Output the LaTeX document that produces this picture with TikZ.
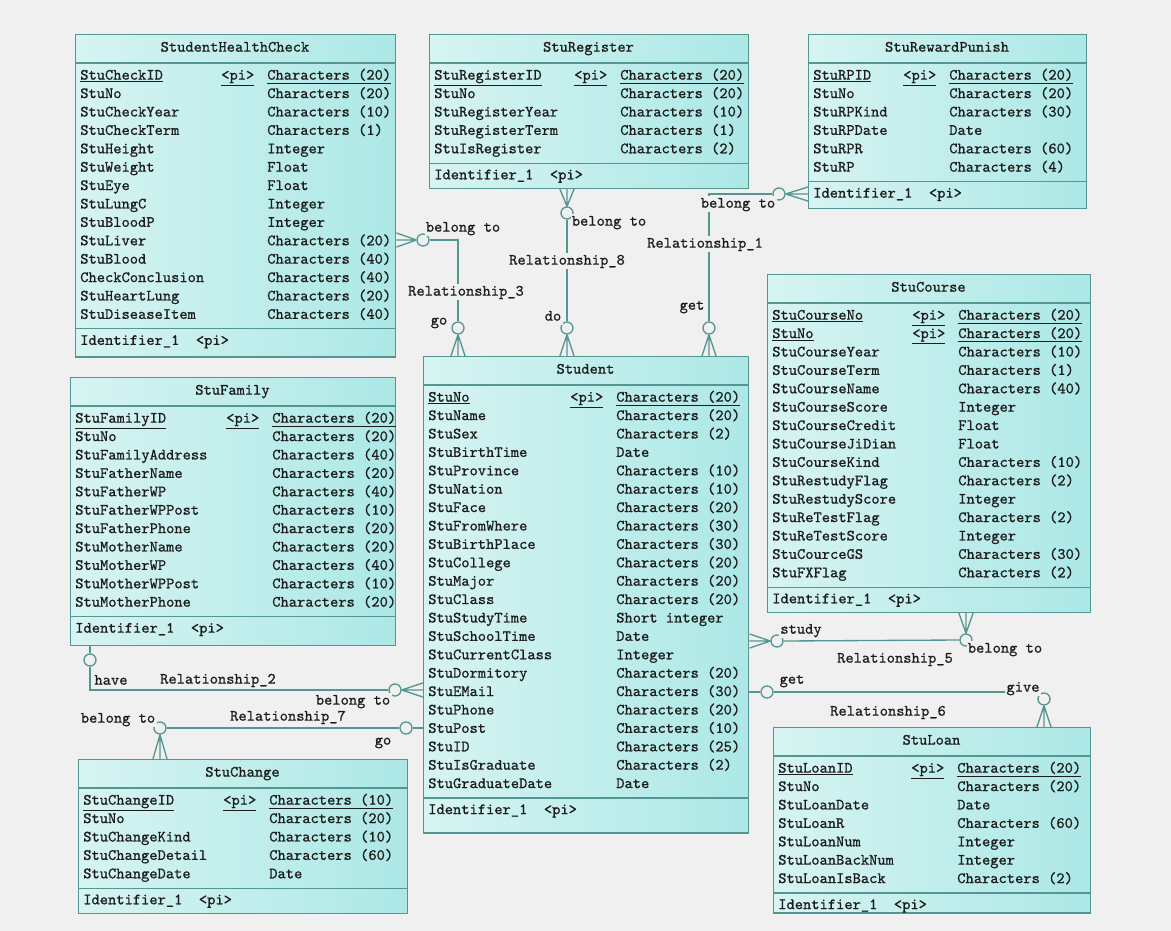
\documentclass[tikz,border=0pt]{standalone}
\usepackage{fontspec}
\usetikzlibrary{calc}

\newfontfamily\ermono[FakeBold=0.8]{lmmono10-regular.otf}

\definecolor{bgc}{RGB}{240,240,240}
\definecolor{tblA}{RGB}{214,244,242}
\definecolor{tblB}{RGB}{172,232,230}
\definecolor{erline}{RGB}{84,150,146}
\definecolor{ink}{RGB}{28,28,28}

\newcommand\erfont{\ermono\fontsize{11.8}{14}\selectfont}

% #1 name, #2 x, #3 y, #4 width, #5 pi column, #6 title, #7 keys, #8 rows, #9 bottom pad
\newcommand\ertable[9]{%
  \foreach \fname/\ftype [count=\i] in {#8} {\xdef\nrows{\i}}
  \pgfmathsetmacro\ylast{#3+42+(\nrows-1)*18.4}
  \pgfmathsetmacro\hgt{\ylast+26+#9-#3}
  \node[tbl, minimum width=#4*0.75pt, minimum height=\hgt*0.75pt, anchor=north west] (#1) at (#2,#3) {};
  \begin{scope}
    \clip (#1.south west) rectangle (#1.north east);
    \node[fld, anchor=center] (#1-title) at (#2+#4/2,#3+14) {#6};
    \draw[sep] (#2,#3+29) -- ++(#4,0);
    \draw[sep] (#2,\ylast+13.5) -- ++(#4,0);
    \foreach \fname/\ftype [count=\i] in {#8} {
      \pgfmathsetmacro\yrow{#3+42+(\i-1)*18.4}
      \ifnum\i>#7\relax
        \node[fld] (#1-n\i) at (#2+5,\yrow) {\fname};
        \node[fld] (#1-t\i) at (#2+#5+46,\yrow) {\ftype};
      \else
        \node[fld] (#1-n\i) at (#2+5,\yrow) {\underline{\fname}};
        \node[fld] (#1-k\i) at (#2+#5,\yrow) {\underline{<pi>}};
        \node[fld] (#1-t\i) at (#2+#5+46,\yrow) {\underline{\ftype}};
      \fi
    }
    \node[fld] (#1-id) at (#2+5,\ylast+26) {Identifier\_1~~<pi>};
  \end{scope}
}

\newcommand\crowfoot[3]{\draw[link] (#1) -- (#2) (#1) -- ([#3shift=5.3pt]#2) (#1) -- ([#3shift=-5.3pt]#2);}

\begin{document}
\begin{tikzpicture}[x=0.75pt,y=-0.75pt,
    tbl/.style={draw=erline,line width=1.1pt,left color=tblA,right color=tblB,inner sep=0},
    sep/.style={draw=erline,line width=0.9pt},
    fld/.style={anchor=west,inner sep=0,text height=8pt,text depth=2.5pt,font=\erfont,text=ink},
    lbl/.style={inner sep=1pt,text height=8pt,text depth=2.5pt,fill=bgc,font=\erfont,text=ink},
    link/.style={draw=erline,line width=1pt},
    ring/.style={circle,draw=erline,fill=bgc,line width=1pt,inner sep=0,minimum size=9pt}]

\fill[bgc] (0,0) rectangle (1171,931);
\useasboundingbox (0,0) rectangle (1171,931);

% tables
\ertable{hc}{75}{34}{320}{146}{StudentHealthCheck}{1}{StuCheckID/Characters (20), StuNo/Characters (20), StuCheckYear/Characters (10), StuCheckTerm/Characters (1), StuHeight/Integer, StuWeight/Float, StuEye/Float, StuLungC/Integer, StuBloodP/Integer, StuLiver/Characters (20), StuBlood/Characters (40), CheckConclusion/Characters (40), StuHeartLung/Characters (20), StuDiseaseItem/Characters (40)}{15}
\ertable{reg}{429}{34}{319}{145}{StuRegister}{1}{StuRegisterID/Characters (20), StuNo/Characters (20), StuRegisterYear/Characters (10), StuRegisterTerm/Characters (1), StuIsRegister/Characters (2)}{12}
\ertable{rp}{808}{34}{278}{95}{StuRewardPunish}{1}{StuRPID/Characters (20), StuNo/Characters (20), StuRPKind/Characters (30), StuRPDate/Date, StuRPR/Characters (60), StuRP/Characters (4)}{14}
\ertable{crs}{767}{274}{323}{145}{StuCourse}{2}{StuCourseNo/Characters (20), StuNo/Characters (20), StuCourseYear/Characters (10), StuCourseTerm/Characters (1), StuCourseName/Characters (40), StuCourseScore/Integer, StuCourseCredit/Float, StuCourseJiDian/Float, StuCourseKind/Characters (10), StuRestudyFlag/Characters (2), StuRestudyScore/Integer, StuReTestFlag/Characters (2), StuReTestScore/Integer, StuCourceGS/Characters (30), StuFXFlag/Characters (2)}{12}
\ertable{fam}{70}{377}{325}{156}{StuFamily}{1}{StuFamilyID/Characters (20), StuNo/Characters (20), StuFamilyAddress/Characters (40), StuFatherName/Characters (20), StuFatherWP/Characters (40), StuFatherWPPost/Characters (10), StuFatherPhone/Characters (20), StuMotherName/Characters (20), StuMotherWP/Characters (40), StuMotherWPPost/Characters (10), StuMotherPhone/Characters (20)}{16}
\ertable{stu}{423}{356}{325}{147}{Student}{1}{StuNo/Characters (20), StuName/Characters (20), StuSex/Characters (2), StuBirthTime/Date, StuProvince/Characters (10), StuNation/Characters (10), StuFace/Characters (20), StuFromWhere/Characters (30), StuBirthPlace/Characters (30), StuCollege/Characters (20), StuMajor/Characters (20), StuClass/Characters (20), StuStudyTime/Short integer, StuSchoolTime/Date, StuCurrentClass/Integer, StuDormitory/Characters (20), StuEMail/Characters (30), StuPhone/Characters (20), StuPost/Characters (10), StuID/Characters (25), StuIsGraduate/Characters (2), StuGraduateDate/Date}{22}
\ertable{chg}{78}{759}{329}{145}{StuChange}{1}{StuChangeID/Characters (10), StuNo/Characters (20), StuChangeKind/Characters (10), StuChangeDetail/Characters (60), StuChangeDate/Date}{12}
\ertable{loan}{773}{727}{317}{138}{StuLoan}{1}{StuLoanID/Characters (20), StuNo/Characters (20), StuLoanDate/Date, StuLoanR/Characters (60), StuLoanNum/Integer, StuLoanBackNum/Integer, StuLoanIsBack/Characters (2)}{7}

% Relationship_3
\node[ring] (r3a) at (423,240) {};
\node[ring] (r3b) at (458,328) {};
\coordinate (f3a) at (hc.east |- r3a);
\coordinate (f3b) at (stu.north -| r3b);
\draw[link] (r3a.east) -| (r3b.north);
\crowfoot{r3a.west}{f3a}{y}
\crowfoot{r3b.south}{f3b}{x}

% Relationship_8
\node[ring] (r8a) at (567,213) {};
\node[ring] (r8b) at (567,328) {};
\coordinate (f8a) at (reg.south -| r8a);
\coordinate (f8b) at (stu.north -| r8b);
\draw[link] (r8a.south) -- (r8b.north);
\crowfoot{r8a.north}{f8a}{x}
\crowfoot{r8b.south}{f8b}{x}

% Relationship_1
\node[ring] (r1a) at (779,194) {};
\node[ring] (r1b) at (709,328) {};
\coordinate (f1a) at (rp.west |- r1a);
\coordinate (f1b) at (stu.north -| r1b);
\draw[link] (r1a.west) -| (r1b.north);
\crowfoot{r1a.east}{f1a}{y}
\crowfoot{r1b.south}{f1b}{x}

% Relationship_5
\node[ring] (r5a) at (777,641) {};
\node[ring] (r5b) at (966,640) {};
\coordinate (f5a) at (stu.east |- r5a);
\coordinate (f5b) at (crs.south -| r5b);
\draw[link] (r5a.east) -- (r5b.west);
\crowfoot{r5a.west}{f5a}{y}
\crowfoot{r5b.north}{f5b}{x}

% Relationship_6
\node[ring] (r6a) at (767,692) {};
\node[ring] (r6b) at (1044,699) {};
\coordinate (f6a) at (stu.east |- r6a);
\coordinate (f6b) at (loan.north -| r6b);
\draw[link] (f6a) -- (r6a.west);
\draw[link] (r6a.east) -- (r6b.north west |- r6a.east) -- (r6b.north west);
\crowfoot{r6b.south}{f6b}{x}

% Relationship_2
\node[ring] (r2a) at (90,660) {};
\node[ring] (r2b) at (395,690) {};
\coordinate (f2a) at (fam.south -| r2a);
\coordinate (f2b) at (stu.west |- r2b);
\draw[link] (f2a) -- (r2a.north);
\draw[link] (r2a.south) |- (r2b.west);
\crowfoot{r2b.east}{f2b}{y}

% Relationship_7
\node[ring] (r7a) at (160,728) {};
\node[ring] (r7b) at (406,728) {};
\coordinate (f7a) at (chg.north -| r7a);
\coordinate (f7b) at (stu.west |- r7b);
\draw[link] (r7a.east) -- (r7b.west);
\draw[link] (r7b.east) -- (f7b);
\crowfoot{r7a.south}{f7a}{x}

% role and relationship names
\node[lbl] (l3a) at (463,228) {belong to};
\node[lbl] (l3) at (466,292) {Relationship\_3};
\node[lbl] (l3b) at (439,321) {go};
\node[lbl] (l8a) at (609,222) {belong to};
\node[lbl] (l8) at (567,261) {Relationship\_8};
\node[lbl] (l8b) at (553,317) {do};
\node[lbl] (l1a) at (738,204) {belong to};
\node[lbl] (l1) at (705,244) {Relationship\_1};
\node[lbl] (l1b) at (692,306) {get};
\node[lbl] (l5a) at (801,630) {study};
\node[lbl] (l5) at (895,659) {Relationship\_5};
\node[lbl] (l5b) at (1005,649) {belong to};
\node[lbl] (l6a) at (792,680) {get};
\node[lbl] (l6b) at (1023,688) {give};
\node[lbl] (l6) at (888,712) {Relationship\_6};
\node[lbl] (l2a) at (111,681) {have};
\node[lbl] (l2) at (218,680) {Relationship\_2};
\node[lbl] (l2b) at (353,701) {belong to};
\node[lbl] (l7a) at (118,719) {belong to};
\node[lbl] (l7) at (288,717) {Relationship\_7};
\node[lbl] (l7b) at (383,741) {go};

\end{tikzpicture}
\end{document}
